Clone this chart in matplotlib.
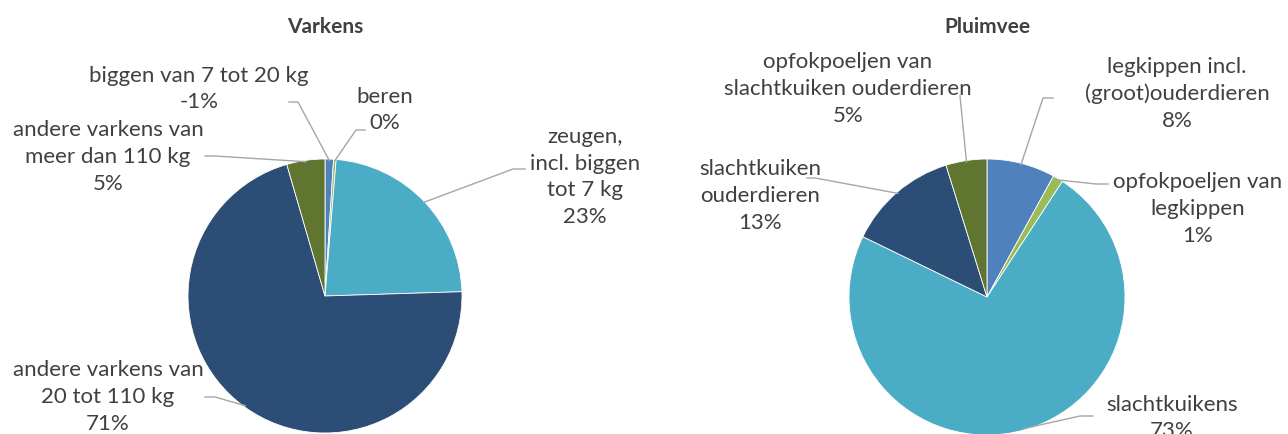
import matplotlib
matplotlib.use('Agg')
import matplotlib.pyplot as plt
import numpy as np

plt.rcParams['font.family'] = ['Lato', 'DejaVu Sans']

# Varkens (clockwise from 12 o'clock)
varkens_labels = ['biggen van 7 tot 20 kg', 'beren', 'zeugen,\nincl. biggen\ntot 7 kg',
                  'andere varkens van\n20 tot 110 kg', 'andere varkens van\nmeer dan 110 kg']
varkens_values = [1.0, 0.3, 23.2, 71.0, 4.5]
varkens_pct = ['-1%', '0%', '23%', '71%', '5%']

# Pluimvee (clockwise from 12 o'clock)
pluimvee_labels = ['legkippen incl.\n(groot)ouderdieren', 'opfokpoeljen van\nlegkippen', 'slachtkuikens',
                   'slachtkuiken\nouderdieren', 'opfokpoeljen van\nslachtkuiken ouderdieren']
pluimvee_values = [8.0, 1.2, 73.0, 13.0, 4.8]
pluimvee_pct = ['8%', '1%', '73%', '13%', '5%']

colors_v = ['#4F81BD', '#9BBB59', '#4BACC6', '#2C4D75', '#5F7530']
colors_p = ['#4F81BD', '#9BBB59', '#4BACC6', '#2C4D75', '#5F7530']

W, H = 1288, 435
fig = plt.figure(figsize=(W / 100, H / 100), dpi=100)
txt_color = '#404040'
line_color = '#A6A6A6'

# text centre, leader start, leader elbow -- pixels from top-left
varkens_pos = [((199, 89), (289, 103), (298, 103)),
               ((385, 110), (365, 131), (356, 131)),
               ((585, 177), (525, 170), (513, 170)),
               ((108, 397), (205, 398), (215, 398)),
               ((108, 157), (205, 157), (215, 157))]
pluimvee_pos = [((1177, 94), (1053, 99), (1043, 99)),
                ((1198, 209), (1108, 185), (1096, 185)),
                ((1172, 418), (1093, 417), (1080, 417)),
                ((760, 196), (807, 179), (815, 179)),
                ((848, 89), (960, 97), (960, 97))]


def pie_panel(cx, cy, r, values, colors, labels, pct, pos, title):
    ax = fig.add_axes([(cx - r) / W, (H - cy - r) / H, 2 * r / W, 2 * r / H])
    ax.pie(values, colors=colors, startangle=90, counterclock=False,
           wedgeprops=dict(edgecolor='white', linewidth=0.6))
    ax.set_xlim(-1, 1)
    ax.set_ylim(-1, 1)
    ax.set_aspect('auto')
    ax.axis('off')
    fig.text(cx / W, 1 - 27 / H, title, ha='center', va='center',
             fontsize=15, fontweight='bold', color=txt_color)
    inv = ax.transData.inverted()
    frac = np.array(values) / np.sum(values)
    cum = np.concatenate([[0], np.cumsum(frac)])
    for i in range(len(values)):
        mid = (cum[i] + cum[i + 1]) / 2
        ang = np.deg2rad(90 - 360 * mid)
        edge = (0.99 * np.cos(ang), 0.99 * np.sin(ang))
        (tx, ty), (lx, ly), (ex, ey) = pos[i]
        p0 = inv.transform((lx, H - ly))
        p1 = inv.transform((ex, H - ey))
        ax.plot([p0[0], p1[0], edge[0]], [p0[1], p1[1], edge[1]],
                color=line_color, lw=1, clip_on=False)
        fig.text(tx / W, 1 - ty / H, labels[i] + '\n' + pct[i], ha='center', va='center',
                 fontsize=16, color=txt_color, linespacing=1.42)


pie_panel(325, 297, 137, varkens_values, colors_v, varkens_labels, varkens_pct, varkens_pos, 'Varkens')
pie_panel(987, 298, 138, pluimvee_values, colors_p, pluimvee_labels, pluimvee_pct, pluimvee_pos, 'Pluimvee')

fig.savefig('out.png', dpi=100)
